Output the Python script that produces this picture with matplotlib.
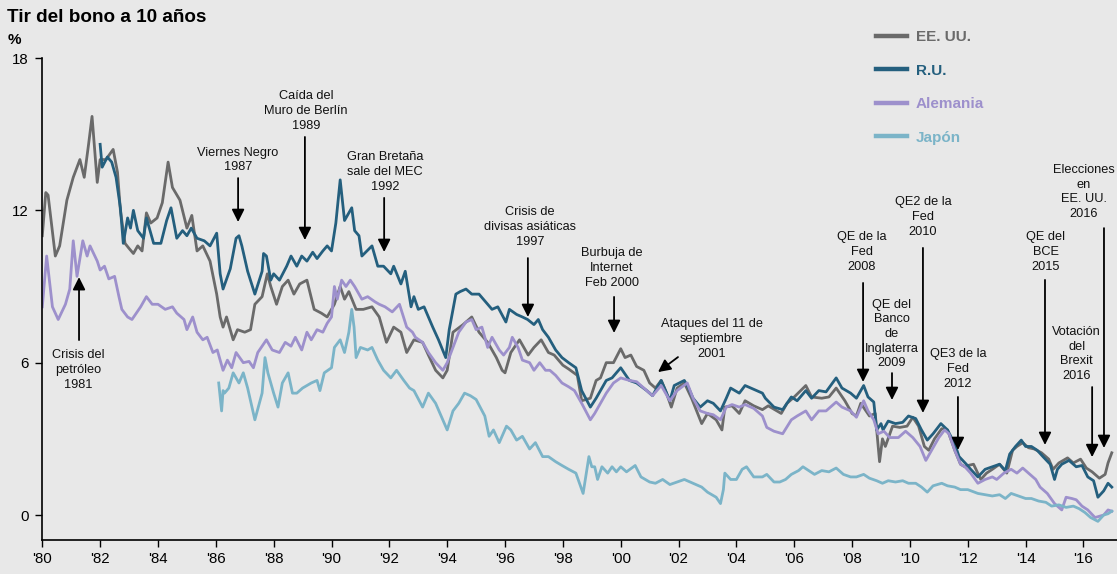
import matplotlib
matplotlib.use("Agg")
import matplotlib.pyplot as plt
from matplotlib.lines import Line2D

plt.rcParams['font.family'] = ['Liberation Sans', 'DejaVu Sans']

# ---------------- data (decimal year, % yield) ----------------
us_t = [1980.0, 1980.12, 1980.2, 1980.45, 1980.6, 1980.85, 1981.07, 1981.3, 1981.45, 1981.6, 1981.72, 1981.9,
        1982.0, 1982.2, 1982.45, 1982.6, 1982.7, 1982.86, 1983.0, 1983.15, 1983.3, 1983.45, 1983.6, 1983.75,
        1983.97, 1984.15, 1984.35, 1984.5, 1984.76, 1985.0, 1985.17, 1985.35, 1985.55, 1985.8, 1986.03, 1986.15,
        1986.25, 1986.37, 1986.5, 1986.6, 1986.75, 1987.0, 1987.2, 1987.35, 1987.6, 1987.78, 1987.9, 1988.1,
        1988.3, 1988.5, 1988.7, 1988.9, 1989.15, 1989.4, 1989.65, 1989.85, 1990.1, 1990.3, 1990.45, 1990.6,
        1990.85, 1991.1, 1991.4, 1991.65, 1991.9, 1992.15, 1992.4, 1992.6, 1992.85, 1993.15, 1993.35, 1993.6,
        1993.85, 1994.0, 1994.2, 1994.55, 1994.85, 1995.1, 1995.4, 1995.7, 1995.9, 1996.0, 1996.2, 1996.5,
        1996.8, 1997.0, 1997.25, 1997.5, 1997.7, 1998.0, 1998.2, 1998.5, 1998.65, 1998.95, 1999.15, 1999.3,
        1999.5, 1999.75, 2000.0, 2000.15, 2000.35, 2000.55, 2000.8, 2001.0, 2001.2, 2001.4, 2001.55, 2001.75,
        2001.95, 2002.2, 2002.45, 2002.8, 2003.0, 2003.3, 2003.5, 2003.6, 2003.85, 2004.1, 2004.3, 2004.6,
        2004.9, 2005.1, 2005.4, 2005.55, 2005.75, 2006.0, 2006.4, 2006.6, 2006.95, 2007.2, 2007.45, 2007.75,
        2008.0, 2008.15, 2008.3, 2008.6, 2008.8, 2008.95, 2009.05, 2009.15, 2009.4, 2009.65, 2009.9, 2010.1,
        2010.3, 2010.5, 2010.65, 2010.85, 2011.1, 2011.3, 2011.55, 2011.75, 2011.9, 2012.0, 2012.2, 2012.45,
        2012.65, 2012.85, 2013.1, 2013.35, 2013.55, 2013.7, 2013.9, 2014.1, 2014.3, 2014.55, 2014.8, 2014.95,
        2015.15, 2015.45, 2015.65, 2015.9, 2016.1, 2016.3, 2016.55, 2016.75, 2016.85, 2016.98]
us_v = [11.0, 12.7, 12.6, 10.2, 10.6, 12.4, 13.3, 14.0, 13.3, 14.6, 15.7, 13.1,
        14.0, 14.0, 14.4, 13.5, 12.0, 10.7, 10.5, 10.3, 10.6, 10.4, 11.9, 11.5,
        11.7, 12.3, 13.9, 12.9, 12.4, 11.3, 11.8, 10.4, 10.6, 10.0, 8.7, 7.8,
        7.4, 7.8, 7.3, 6.9, 7.3, 7.2, 7.3, 8.3, 8.6, 9.5, 9.0, 8.3,
        9.0, 9.25, 8.7, 9.1, 9.25, 8.1, 7.95, 7.8, 8.3, 9.0, 8.5, 8.8,
        8.1, 8.1, 8.2, 7.8, 6.8, 7.4, 7.2, 6.4, 6.9, 6.8, 6.3, 5.7,
        5.4, 5.7, 7.2, 7.5, 7.8, 7.2, 6.8, 6.2, 5.7, 5.6, 6.4, 6.9,
        6.3, 6.6, 6.9, 6.4, 6.3, 5.9, 5.75, 5.5, 4.5, 4.6, 5.3, 5.4,
        6.0, 6.0, 6.55, 6.2, 6.3, 5.85, 5.7, 5.2, 5.0, 5.3, 4.9, 4.25,
        5.0, 5.2, 4.6, 3.6, 4.0, 3.75, 3.35, 4.25, 4.3, 4.0, 4.5, 4.3,
        4.15, 4.3, 4.1, 4.0, 4.4, 4.65, 5.1, 4.65, 4.6, 4.65, 5.0, 4.5,
        4.0, 3.9, 4.4, 3.9, 4.0, 2.1, 3.0, 2.7, 3.5, 3.45, 3.5, 3.85,
        3.5, 2.7, 2.55, 3.0, 3.4, 3.35, 2.55, 2.0, 1.9, 1.95, 2.0, 1.4,
        1.65, 1.8, 2.0, 1.65, 2.55, 2.7, 2.85, 2.65, 2.6, 2.45, 2.2, 1.8,
        2.05, 2.25, 2.05, 2.2, 1.85, 1.7, 1.45, 1.6, 2.05, 2.45]

uk_t = [1982.0, 1982.07, 1982.25, 1982.4, 1982.55, 1982.7, 1982.8, 1982.95, 1983.05, 1983.15, 1983.3, 1983.5,
        1983.6, 1983.85, 1984.1, 1984.3, 1984.45, 1984.65, 1984.85, 1985.0, 1985.15, 1985.35, 1985.6, 1985.8,
        1986.03, 1986.15, 1986.25, 1986.5, 1986.7, 1986.8, 1986.9, 1987.1, 1987.35, 1987.6, 1987.65, 1987.75,
        1987.9, 1988.0, 1988.2, 1988.45, 1988.6, 1988.8, 1988.97, 1989.15, 1989.35, 1989.5, 1989.7, 1989.85,
        1990.0, 1990.15, 1990.3, 1990.45, 1990.7, 1990.8, 1990.95, 1991.05, 1991.4, 1991.6, 1991.8, 1992.05,
        1992.15, 1992.4, 1992.55, 1992.75, 1992.85, 1993.0, 1993.2, 1993.5, 1993.7, 1993.95, 1994.07, 1994.3,
        1994.45, 1994.65, 1994.85, 1995.1, 1995.4, 1995.55, 1995.75, 1996.03, 1996.15, 1996.4, 1996.6, 1996.78,
        1997.0, 1997.15, 1997.3, 1997.5, 1997.75, 1997.97, 1998.2, 1998.45, 1998.65, 1998.95, 1999.15, 1999.3,
        1999.5, 1999.7, 2000.0, 2000.3, 2000.55, 2000.9, 2001.1, 2001.4, 2001.55, 2001.7, 2001.85, 2002.2,
        2002.35, 2002.5, 2002.75, 2003.0, 2003.2, 2003.45, 2003.65, 2003.8, 2004.1, 2004.3, 2004.6, 2004.9,
        2005.0, 2005.3, 2005.6, 2005.9, 2006.1, 2006.4, 2006.6, 2006.85, 2007.1, 2007.45, 2007.65, 2007.95,
        2008.15, 2008.4, 2008.55, 2008.75, 2008.85, 2009.0, 2009.07, 2009.25, 2009.5, 2009.75, 2009.95, 2010.2,
        2010.4, 2010.6, 2010.8, 2011.07, 2011.3, 2011.55, 2011.7, 2011.95, 2012.1, 2012.35, 2012.6, 2012.85,
        2013.1, 2013.3, 2013.45, 2013.65, 2013.85, 2014.0, 2014.2, 2014.4, 2014.6, 2014.85, 2015.0, 2015.1,
        2015.25, 2015.5, 2015.75, 2015.95, 2016.15, 2016.35, 2016.5, 2016.7, 2016.85, 2016.98]
uk_v = [14.6, 13.7, 14.1, 13.9, 13.3, 12.1, 10.7, 11.7, 11.3, 12.0, 11.2, 10.9,
        11.7, 10.7, 10.7, 11.6, 12.1, 10.9, 11.2, 11.0, 11.3, 10.9, 10.8, 10.6,
        11.1, 9.5, 8.9, 9.7, 10.9, 11.0, 10.6, 9.6, 8.7, 9.6, 10.3, 10.2,
        9.25, 9.5, 9.25, 9.8, 10.2, 9.8, 10.2, 10.0, 10.35, 10.1, 10.4, 10.6,
        10.4, 11.5, 13.2, 11.6, 12.1, 11.2, 11.0, 10.2, 10.6, 9.8, 9.8, 9.5,
        9.8, 9.1, 9.6, 8.2, 8.6, 8.1, 8.2, 7.4, 6.9, 6.2, 7.3, 8.7,
        8.8, 8.9, 8.7, 8.7, 8.3, 8.1, 8.2, 7.6, 8.1, 7.9, 7.8, 7.7,
        7.5, 7.7, 7.3, 7.0, 6.5, 6.2, 6.0, 5.8, 4.9, 4.25, 4.6, 4.9,
        5.3, 5.4, 5.8, 5.3, 5.2, 4.9, 4.7, 5.3, 4.9, 4.5, 5.1, 5.3,
        5.0, 4.6, 4.25, 4.5, 4.4, 4.1, 4.6, 5.0, 4.8, 5.1, 4.95, 4.8,
        4.6, 4.25, 4.15, 4.65, 4.5, 4.9, 4.6, 4.9, 4.85, 5.4, 5.0, 4.8,
        4.6, 5.1, 4.65, 4.45, 3.35, 3.6, 3.35, 3.7, 3.6, 3.65, 3.9, 3.8,
        3.35, 2.95, 3.2, 3.6, 3.35, 2.8, 2.3, 2.0, 1.8, 1.5, 1.8, 1.9,
        2.0, 1.75, 2.4, 2.7, 2.95, 2.7, 2.7, 2.55, 2.3, 2.0, 1.4, 1.8,
        2.0, 2.15, 1.9, 1.95, 1.5, 1.35, 0.7, 0.95, 1.25, 1.1]

de_t = [1980.0, 1980.15, 1980.35, 1980.55, 1980.8, 1980.95, 1981.07, 1981.2, 1981.4, 1981.55, 1981.65, 1981.9,
        1982.0, 1982.15, 1982.3, 1982.5, 1982.65, 1982.75, 1982.95, 1983.1, 1983.4, 1983.6, 1983.8, 1984.0,
        1984.25, 1984.5, 1984.65, 1984.9, 1985.0, 1985.2, 1985.35, 1985.55, 1985.7, 1985.9, 1986.05, 1986.25,
        1986.4, 1986.55, 1986.7, 1986.95, 1987.15, 1987.3, 1987.45, 1987.75, 1987.95, 1988.2, 1988.4, 1988.6,
        1988.75, 1988.97, 1989.15, 1989.3, 1989.5, 1989.7, 1989.85, 1990.0, 1990.1, 1990.2, 1990.35, 1990.5,
        1990.65, 1990.8, 1991.05, 1991.25, 1991.5, 1991.65, 1991.85, 1992.1, 1992.35, 1992.6, 1992.8, 1992.9,
        1993.15, 1993.35, 1993.6, 1993.85, 1994.0, 1994.2, 1994.4, 1994.65, 1994.85, 1995.0, 1995.2, 1995.4,
        1995.55, 1995.8, 1995.95, 1996.15, 1996.25, 1996.45, 1996.6, 1996.85, 1997.0, 1997.2, 1997.4, 1997.55,
        1997.75, 1997.97, 1998.2, 1998.4, 1998.65, 1998.95, 1999.1, 1999.3, 1999.5, 1999.75, 2000.0, 2000.3,
        2000.55, 2000.9, 2001.1, 2001.4, 2001.7, 2001.95, 2002.3, 2002.5, 2002.75, 2003.0, 2003.2, 2003.45,
        2003.65, 2003.85, 2004.1, 2004.3, 2004.6, 2004.9, 2005.05, 2005.3, 2005.6, 2005.9, 2006.1, 2006.4,
        2006.6, 2006.85, 2007.1, 2007.45, 2007.65, 2007.95, 2008.15, 2008.4, 2008.55, 2008.75, 2008.9, 2009.1,
        2009.3, 2009.6, 2009.85, 2010.1, 2010.35, 2010.55, 2010.75, 2011.0, 2011.2, 2011.35, 2011.55, 2011.75,
        2011.9, 2012.1, 2012.35, 2012.6, 2012.85, 2013.0, 2013.25, 2013.5, 2013.7, 2013.9, 2014.1, 2014.35,
        2014.5, 2014.75, 2015.0, 2015.25, 2015.4, 2015.6, 2015.75, 2015.95, 2016.15, 2016.4, 2016.7, 2016.85,
        2016.98]
de_v = [8.2, 10.2, 8.2, 7.7, 8.3, 8.9, 10.8, 9.4, 10.8, 10.2, 10.6, 10.0,
        9.65, 9.8, 9.3, 9.4, 8.6, 8.1, 7.8, 7.7, 8.2, 8.6, 8.3, 8.3,
        8.1, 8.2, 7.95, 7.7, 7.3, 7.8, 7.2, 6.9, 7.0, 6.4, 6.5, 5.7,
        6.1, 5.8, 6.4, 6.0, 6.05, 5.8, 6.4, 6.9, 6.5, 6.4, 6.8, 6.65,
        7.0, 6.5, 7.2, 6.9, 7.3, 7.2, 7.55, 7.8, 9.0, 8.5, 9.25, 9.0,
        9.25, 9.0, 8.5, 8.6, 8.4, 8.3, 8.2, 8.0, 8.3, 7.4, 7.2, 7.0,
        6.8, 6.4, 6.0, 5.7, 6.0, 6.6, 7.2, 7.6, 7.7, 7.3, 7.4, 6.6,
        7.0, 6.5, 6.3, 6.6, 7.0, 6.6, 6.1, 6.0, 5.7, 6.0, 5.7, 5.7,
        5.5, 5.2, 5.05, 4.9, 4.4, 3.75, 4.0, 4.4, 4.8, 5.2, 5.4, 5.3,
        5.25, 4.9, 4.7, 5.1, 4.5, 4.9, 5.2, 4.6, 4.1, 4.0, 3.95, 3.75,
        4.25, 4.35, 4.25, 4.35, 4.2, 3.9, 3.45, 3.3, 3.2, 3.75, 3.9, 4.1,
        3.75, 4.1, 4.1, 4.45, 4.25, 4.1, 3.85, 4.5, 4.1, 3.75, 3.2, 3.3,
        3.05, 3.05, 3.3, 3.05, 2.7, 2.15, 2.55, 3.05, 3.35, 3.2, 2.55, 2.0,
        1.9, 1.65, 1.25, 1.4, 1.5, 1.4, 1.65, 1.8, 1.65, 1.85, 1.65, 1.4,
        1.1, 0.85, 0.45, 0.2, 0.7, 0.65, 0.6, 0.35, 0.2, -0.1, 0.0, 0.2,
        0.15]

jp_t = [1986.1, 1986.2, 1986.25, 1986.3, 1986.45, 1986.6, 1986.8, 1986.95, 1987.1, 1987.35, 1987.6, 1987.7,
        1987.8, 1988.0, 1988.15, 1988.3, 1988.5, 1988.65, 1988.8, 1989.0, 1989.3, 1989.5, 1989.6, 1989.75,
        1990.0, 1990.1, 1990.3, 1990.45, 1990.6, 1990.7, 1990.78, 1990.85, 1991.0, 1991.25, 1991.4, 1991.6,
        1991.8, 1992.05, 1992.25, 1992.5, 1992.7, 1992.85, 1993.15, 1993.35, 1993.6, 1993.85, 1994.0, 1994.2,
        1994.4, 1994.6, 1994.8, 1995.0, 1995.3, 1995.45, 1995.6, 1995.8, 1996.05, 1996.2, 1996.4, 1996.6,
        1996.85, 1997.05, 1997.3, 1997.5, 1997.75, 1997.97, 1998.2, 1998.45, 1998.7, 1998.9, 1999.0, 1999.1,
        1999.2, 1999.35, 1999.55, 1999.7, 1999.85, 2000.0, 2000.2, 2000.5, 2000.7, 2001.0, 2001.2, 2001.45,
        2001.7, 2001.95, 2002.2, 2002.5, 2002.8, 2003.0, 2003.3, 2003.45, 2003.55, 2003.6, 2003.8, 2004.0,
        2004.2, 2004.35, 2004.6, 2004.9, 2005.05, 2005.3, 2005.5, 2005.7, 2005.9, 2006.15, 2006.3, 2006.5,
        2006.7, 2006.95, 2007.2, 2007.45, 2007.7, 2007.95, 2008.15, 2008.4, 2008.6, 2008.85, 2009.05, 2009.25,
        2009.5, 2009.75, 2009.95, 2010.2, 2010.4, 2010.6, 2010.8, 2011.1, 2011.3, 2011.55, 2011.75, 2012.0,
        2012.35, 2012.6, 2012.85, 2013.1, 2013.3, 2013.5, 2013.75, 2014.0, 2014.2, 2014.45, 2014.7, 2014.9,
        2015.15, 2015.4, 2015.65, 2015.85, 2016.05, 2016.25, 2016.5, 2016.7, 2016.85, 2016.98]
jp_v = [5.2, 4.1, 4.9, 4.8, 5.0, 5.6, 5.2, 5.6, 5.0, 3.75, 4.8, 6.2,
        5.6, 4.8, 4.25, 5.2, 5.6, 4.8, 4.8, 5.0, 5.2, 5.3, 4.9, 5.6,
        5.8, 6.6, 6.9, 6.4, 7.2, 8.1, 7.4, 6.2, 6.6, 6.5, 6.6, 6.1,
        5.7, 5.4, 5.7, 5.3, 5.0, 4.9, 4.25, 4.8, 4.4, 3.75, 3.35, 4.1,
        4.4, 4.8, 4.7, 4.55, 3.9, 3.1, 3.35, 2.85, 3.5, 3.35, 2.95, 3.1,
        2.6, 2.85, 2.3, 2.3, 2.1, 1.95, 1.8, 1.65, 0.85, 2.3, 1.9, 1.9,
        1.4, 1.9, 1.65, 1.9, 1.7, 1.9, 1.7, 1.95, 1.5, 1.3, 1.25, 1.4,
        1.2, 1.3, 1.4, 1.25, 1.1, 0.9, 0.7, 0.45, 1.0, 1.65, 1.4, 1.4,
        1.8, 1.9, 1.5, 1.5, 1.6, 1.3, 1.3, 1.4, 1.6, 1.75, 1.9, 1.75,
        1.6, 1.75, 1.7, 1.85, 1.6, 1.5, 1.5, 1.6, 1.45, 1.35, 1.25, 1.35,
        1.3, 1.35, 1.25, 1.25, 1.1, 0.9, 1.15, 1.25, 1.15, 1.1, 1.0, 1.0,
        0.85, 0.8, 0.75, 0.8, 0.65, 0.85, 0.75, 0.65, 0.65, 0.55, 0.5, 0.35,
        0.4, 0.3, 0.35, 0.25, 0.1, -0.1, -0.25, 0.0, 0.05, 0.15]

series_names = ['EE. UU.', 'R.U.', 'Alemania', 'Japón']
series_colors = ['#6a6a6a', '#245f7e', '#9d90cc', '#7bb4c8']

x_ticks = list(range(1980, 2017, 2))
x_labels = ["'%02d" % (y % 100) for y in x_ticks]
y_ticks = [0, 6, 12, 18]

# annotations: text, text centre (x, y), arrow tail (x, y), arrow tip (x, y)
annotations = [
    ("Crisis del\npetróleo\n1981", (1981.24, 5.71), (1981.27, 6.89), (1981.27, 9.37)),
    ("Viernes Negro\n1987", (1986.77, 13.98), (1986.77, 13.27), (1986.77, 11.54)),
    ("Caída del\nMuro de Berlín\n1989", (1989.12, 15.91), (1989.08, 14.89), (1989.08, 10.83)),
    ("Gran Bretaña\nsale del MEC\n1992", (1991.85, 13.51), (1991.82, 12.49), (1991.82, 10.36)),
    ("Crisis de\ndivisas asiáticas\n1997", (1996.86, 11.34), (1996.79, 10.12), (1996.79, 7.80)),
    ("Burbuja de\nInternet\nFeb 2000", (1999.70, 9.73), (1999.77, 8.59), (1999.77, 7.17)),
    ("Ataques del 11 de\nseptiembre\n2001", (2003.15, 6.93), (2001.98, 6.22), (2001.29, 5.63)),
    ("QE de la\nFed\n2008", (2008.34, 10.36), (2008.38, 9.14), (2008.38, 5.24)),
    ("QE del\nBanco\nde\nInglaterra\n2009", (2009.38, 7.13), (2009.38, 5.59), (2009.38, 4.53)),
    ("QE2 de la\nFed\n2010", (2010.45, 11.74), (2010.45, 10.52), (2010.45, 4.02)),
    ("QE3 de la\nFed\n2012", (2011.66, 5.75), (2011.66, 4.65), (2011.66, 2.56)),
    ("QE del\nBCE\n2015", (2014.70, 10.36), (2014.67, 9.26), (2014.67, 2.76)),
    ("Votación\ndel\nBrexit\n2016", (2015.77, 6.34), (2016.30, 5.04), (2016.30, 2.28)),
    ("Elecciones\nen\nEE. UU.\n2016", (2016.02, 12.72), (2016.71, 11.30), (2016.71, 2.64)),
]

# ---------------- figure ----------------
W, H, DPI = 1117, 574, 100
bg = '#e8e8e8'
fig = plt.figure(figsize=(W / DPI, H / DPI), dpi=DPI, facecolor=bg)
ax = fig.add_axes([42.3 / W, 1 - 540.4 / H, 1 - 42.3 / W, (540.4 - 58) / H])
ax.set_facecolor(bg)

data = [(jp_t, jp_v, 3), (de_t, de_v, 2), (us_t, us_v, 0), (uk_t, uk_v, 1)]
for t, v, idx in data:
    ax.plot(t, v, color=series_colors[idx], lw=2.0, solid_joinstyle='round', zorder=2 + idx * 0.1)

ax.set_xlim(1980, 2017.16)
ax.set_ylim(-1, 18)
ax.set_xticks(x_ticks)
ax.set_xticklabels(x_labels)
ax.set_yticks(y_ticks)
for s in ['top', 'right']:
    ax.spines[s].set_visible(False)
for s in ['left', 'bottom']:
    ax.spines[s].set_linewidth(1.2)
ax.tick_params(axis='both', direction='out', length=5, width=1, labelsize=10.8, colors='black')
ax.tick_params(axis='x', pad=3)
ax.tick_params(axis='y', pad=5)

for label, (tx, ty), tail, tip in annotations:
    ax.text(tx, ty, label, ha='center', va='center', multialignment='center', fontsize=9.2,
            linespacing=1.3, color='#111111', zorder=5)
    ax.annotate('', xy=tip, xytext=tail,
                arrowprops=dict(arrowstyle='-|>,head_length=0.5,head_width=0.25', color='black',
                                lw=1.3, shrinkA=0, shrinkB=0, mutation_scale=15), zorder=6)

handles = [Line2D([0], [0], color=c, lw=3.2) for c in series_colors]
leg = ax.legend(handles, series_names, loc='upper left', bbox_to_anchor=(876 / W, 1 - 30 / H),
                bbox_transform=fig.transFigure, frameon=False, prop={'weight': 'bold', 'size': 11},
                handlelength=2.0, handletextpad=0.6, labelspacing=1.28, labelcolor=series_colors,
                borderaxespad=0, borderpad=0)

fig.text(7 / W, 1 - 17 / H, 'Tir del bono a 10 años', fontsize=13.6, fontweight='bold', va='center', ha='left')
fig.text(8 / W, 1 - 40 / H, '%', fontsize=11, fontweight='bold', va='center', ha='left')

fig.savefig('out.png', dpi=DPI, facecolor=bg)
